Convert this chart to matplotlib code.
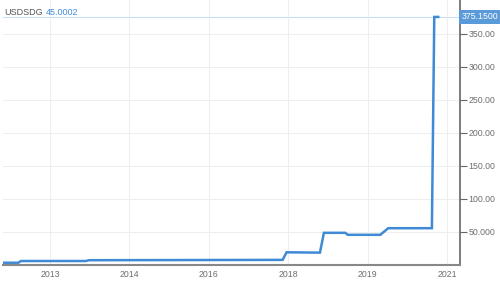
import matplotlib
matplotlib.use("Agg")
import numpy as np
import matplotlib.pyplot as plt

plt.rcParams["font.family"] = ["Liberation Sans", "DejaVu Sans"]

# x positions are in tick-slot units (labels are evenly spaced, not by date)
tick_labels = ["2013", "2014", "2016", "2018", "2019", "2021"]
x_vals = [-0.60, -0.40, -0.365, 0.45, 0.49, 2.93, 2.98, 3.40, 3.45, 3.72, 3.75,
          4.16, 4.26, 4.81, 4.84, 4.89]
y_vals = [2.7, 2.7, 5.3, 5.3, 6.5, 7.0, 18.5, 18.0, 48.0, 48.0, 45.0,
          45.0, 55.0, 55.0, 375.15, 375.15]
y_ticks = [50, 100, 150, 200, 250, 300, 350]
y_tick_labels = ["50.000", "100.00", "150.00", "200.00", "250.00", "300.00", "350.00"]
last_value = 375.15
symbol = "USDSDG"
hover_value = "45.0002"

blue = "#3f8ad6"
grey_txt = "#6e6e6e"

fig = plt.figure(figsize=(5, 2.81), dpi=100)
ax = fig.add_axes([0.006, 0.0587, 0.914, 0.9413])

ax.plot(x_vals, y_vals, color=blue, lw=1.8, solid_joinstyle="miter")
ax.axhline(last_value, color="#c8def4", lw=0.8, zorder=0)

ax.set_xlim(-0.592, 5.164)
ax.set_ylim(0, 400.8)

ax.set_xticks(range(len(tick_labels)))
ax.set_xticklabels(tick_labels)
ax.yaxis.tick_right()
ax.set_yticks(y_ticks)
ax.set_yticklabels(y_tick_labels)

ax.grid(True, color="#eeeeee", lw=0.8)
ax.set_axisbelow(True)

for s in ["top", "left"]:
    ax.spines[s].set_visible(False)
ax.spines["right"].set_color("#666666")
ax.spines["right"].set_linewidth(1.2)
ax.spines["bottom"].set_color("#888888")
ax.spines["bottom"].set_linewidth(1.5)

ax.tick_params(axis="y", direction="out", length=5, width=0.8, color="#666666",
               labelsize=6.3, labelcolor=grey_txt, pad=1)
ax.tick_params(axis="x", length=0, labelsize=6.3, labelcolor=grey_txt, pad=4)

ax.text(1.003, last_value, f"{last_value:.4f}", transform=ax.get_yaxis_transform(),
        ha="left", va="center", fontsize=6.3, color="white",
        bbox=dict(boxstyle="square,pad=0.25", fc="#5b9ad9", ec="none"))

# header: symbol in grey, value in blue right after it
t = fig.text(0.008, 0.955, symbol, fontsize=6.5, color="#555555", va="center", zorder=5)
fig.canvas.draw()
bb = t.get_window_extent().transformed(fig.transFigure.inverted())
fig.text(bb.x1 + 0.007, 0.955, hover_value, fontsize=6.5, color=blue,
         va="center", zorder=5)

fig.savefig("out.png", dpi=100)
